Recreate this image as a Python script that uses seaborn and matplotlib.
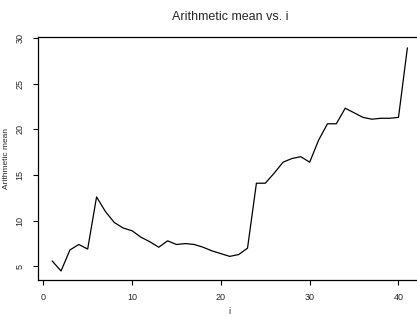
import pandas as pd
import numpy as np
import matplotlib
matplotlib.use('Agg')
import matplotlib.pyplot as plt
import seaborn as sns

i_vals = list(range(1, 42))
mean_vals = [5.6, 4.5, 6.8, 7.4, 6.9, 12.6, 11.0, 9.8, 9.2, 8.9,
             8.2, 7.7, 7.1, 7.8, 7.4, 7.5, 7.4, 7.1, 6.7, 6.4,
             6.1, 6.3, 7.0, 14.1, 14.1, 15.2, 16.4, 16.8, 17.0, 16.4,
             18.8, 20.6, 20.6, 22.3, 21.8, 21.3, 21.1, 21.2, 21.2, 21.3,
             28.9]
x_ticks = [0, 10, 20, 30, 40]
y_ticks = [5, 10, 15, 20, 25, 30]

df = pd.DataFrame({'i': i_vals, 'mean': mean_vals})

sns.set_style('ticks')
plt.rcParams['font.family'] = ['Liberation Sans', 'DejaVu Sans']

fig = plt.figure(figsize=(4.17, 3.18), dpi=100)
ax = fig.add_axes([0.091, 0.119, 0.92, 0.765])
sns.lineplot(data=df, x='i', y='mean', color='black', linewidth=0.9, ax=ax)

ax.set_xlim(-0.6, 42.6)
ax.set_ylim(3.5, 30.1)
ax.set_xticks(x_ticks)
ax.set_yticks(y_ticks)
ax.tick_params(labelsize=6.5, length=3.5, width=0.8, color='black', pad=6)
for lab in ax.get_yticklabels():
    lab.set_rotation(90)
    lab.set_va('center')
for s in ax.spines.values():
    s.set_linewidth(0.9)
    s.set_color('black')
ax.spines['right'].set_visible(False)

ax.set_title('Arithmetic mean vs. i', fontsize=9, pad=12)
ax.set_xlabel('i', fontsize=6.5, labelpad=3)
ax.set_ylabel('Arithmetic mean', fontsize=6, labelpad=4)

fig.savefig('out.png', dpi=100)
